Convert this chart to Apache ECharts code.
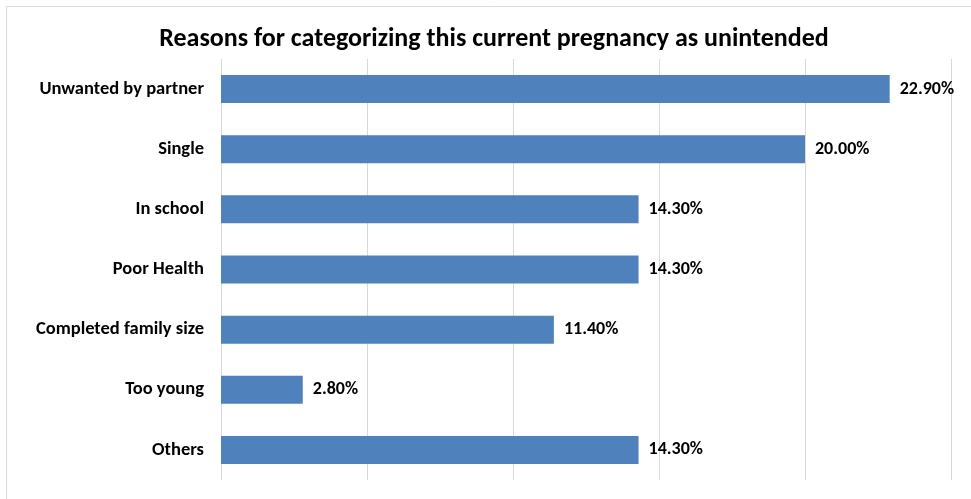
<!DOCTYPE html>
<html>
<head>
<meta charset="utf-8">
<script src="https://cdn.jsdelivr.net/npm/echarts@6/dist/echarts.min.js"></script>
<style>
  html, body { margin: 0; padding: 0; background: #fff; }
  #chart { width: 971px; height: 499px; }
</style>
</head>
<body>
<div id="chart"></div>
<script>
// data (top to bottom)
const categories = ['Unwanted by partner', 'Single', 'In school', 'Poor Health', 'Completed family size', 'Too young', 'Others'];
const values = [22.9, 20.0, 14.3, 14.3, 11.4, 2.8, 14.3];

const font = 'Carlito, "Liberation Sans Narrow", Lato, sans-serif';

const chart = echarts.init(document.getElementById('chart'));
chart.setOption({
  animation: false,
  title: {
    text: 'Reasons for categorizing this current pregnancy as unintended',
    left: 489,
    textAlign: 'center',
    top: 21,
    textStyle: { fontFamily: font, fontSize: 26, fontWeight: 'bold', color: '#000' }
  },
  graphic: [{
    type: 'rect',
    shape: { x: 6.5, y: 6.5, width: 1000, height: 1000 },
    style: { fill: 'none', stroke: '#d9d9d9', lineWidth: 1 },
    silent: true
  }],
  grid: { left: 221, right: 20, top: 59, bottom: 19, containLabel: false },
  xAxis: {
    type: 'value',
    min: 0,
    max: 25,
    interval: 5,
    axisLabel: { show: false },
    axisLine: { show: false },
    axisTick: { show: false },
    splitLine: { show: true, lineStyle: { color: '#d9d9d9', width: 1 } }
  },
  yAxis: {
    type: 'category',
    data: categories,
    inverse: true,
    axisLine: { show: false },
    axisTick: { show: false },
    axisLabel: { fontFamily: font, fontSize: 18.5, fontWeight: 'bold', color: '#000', margin: 17, padding: [2, 0, 0, 0] }
  },
  series: [{
    type: 'bar',
    data: values,
    barWidth: 28,
    itemStyle: { color: '#4f81bd' },
    label: {
      show: true,
      position: 'right',
      distance: 10,
      fontFamily: font,
      fontSize: 18,
      fontWeight: 'bold',
      color: '#000',
      padding: [2, 0, 0, 0],
      formatter: p => p.value.toFixed(2) + '%'
    }
  }]
});
</script>
</body>
</html>
